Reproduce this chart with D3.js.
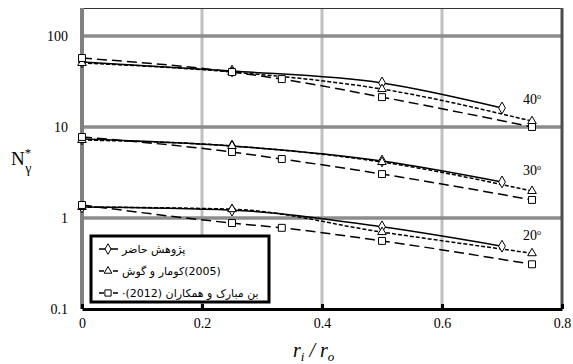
<!DOCTYPE html>
<html>
<head>
<meta charset="utf-8">
<script src="https://cdn.jsdelivr.net/npm/d3@7"></script>
<style>
  body { margin: 0; background: #fff; }
  svg { display: block; }
</style>
</head>
<body>
<svg class="chart"></svg>
<script>
// values
var xPresent = [0, 0.25, 0.5, 0.7];
var xKumar   = [0, 0.25, 0.5, 0.75];
var xBen     = [0, 0.25, 0.333, 0.5, 0.75];

var present40 = [51.8, 41.2, 30.5, 16.2];
var kumar40   = [50.5, 40.2, 26.1, 11.6];
var ben40     = [57.3, 40.2, 33.6, 21.3, 10.0];

var present30 = [7.39, 6.19, 4.23, 2.49];
var kumar30   = [7.20, 6.19, 4.12, 1.98];
var ben30     = [7.77, 5.31, 4.45, 3.04, 1.58];

var present20 = [1.32, 1.22, 0.80, 0.49];
var kumar20   = [1.32, 1.25, 0.70, 0.41];
var ben20     = [1.39, 0.88, 0.78, 0.56, 0.31];

var angleLabels = ["40", "30", "20"];

var xTicks = [0, 0.2, 0.4, 0.6, 0.8];
var yTicks = [0.1, 1, 10, 100];

var legendNames = ["پژوهش حاضر", "(2005)کومار و گوش", "بن مبارک و همکاران (2012)·"];

var serif = "Liberation Serif, Times New Roman, serif";
var width = 573, height = 364;
var svg = d3.select(".chart").attr("width", width).attr("height", height);

var x = d3.scaleLinear().domain([0, 0.8]).range([82, 562]);
var y = d3.scaleLog().domain([0.1, Math.pow(10, 2.3077)]).range([309, 8]);

// styles per source
var styles = [
    { name: "present", xs: xPresent, dash: null,    marker: d3.symbolDiamond,  size: 40 },
    { name: "kumar",   xs: xKumar,   dash: "4,2",   marker: d3.symbolTriangle, size: 32 },
    { name: "ben",     xs: xBen,     dash: "10,5",  marker: d3.symbolSquare,   size: 48 }
];
var groups = [
    [present40, kumar40, ben40],
    [present30, kumar30, ben30],
    [present20, kumar20, ben20]
];

// grid
svg.append("g").selectAll("line")
    .data([0.2, 0.4, 0.6])
  .enter().append("line")
    .attr("x1", function(d) { return x(d); }).attr("x2", function(d) { return x(d); })
    .attr("y1", 8).attr("y2", 309)
    .attr("stroke", "#bfbfbf").attr("stroke-width", 3);

svg.append("g").selectAll("line")
    .data([1, 10, 100])
  .enter().append("line")
    .attr("x1", 82).attr("x2", 562)
    .attr("y1", function(d) { return y(d); }).attr("y2", function(d) { return y(d); })
    .attr("stroke", "#8c8c8c").attr("stroke-width", 3.5);

// frame
svg.append("line").attr("x1", 82).attr("x2", 563).attr("y1", 8.5).attr("y2", 8.5)
    .attr("stroke", "#333").attr("stroke-width", 1);
svg.append("line").attr("x1", 562).attr("x2", 562).attr("y1", 8).attr("y2", 309)
    .attr("stroke", "#4d4d4d").attr("stroke-width", 3);
svg.append("line").attr("x1", 82).attr("x2", 82).attr("y1", 8).attr("y2", 309)
    .attr("stroke", "#808080").attr("stroke-width", 4);

// series
var line = d3.line()
    .x(function(d) { return x(d[0]); })
    .y(function(d) { return y(d[1]); })
    .curve(d3.curveMonotoneX);

groups.forEach(function(g) {
    g.forEach(function(vals, i) {
        var st = styles[i];
        var pts = vals.map(function(v, k) { return [st.xs[k], v]; });
        svg.append("path")
            .datum(pts)
            .attr("d", line)
            .attr("fill", "none")
            .attr("stroke", "#000")
            .attr("stroke-width", 1.5)
            .attr("stroke-dasharray", st.dash);
    });
});
groups.forEach(function(g) {
    g.forEach(function(vals, i) {
        var st = styles[i];
        var pts = vals.map(function(v, k) { return [st.xs[k], v]; });
        svg.append("g").selectAll("path")
            .data(pts)
          .enter().append("path")
            .attr("transform", function(d) { return "translate(" + x(d[0]) + "," + y(d[1]) + ")"; })
            .attr("d", d3.symbol().type(st.marker).size(st.size))
            .attr("fill", "#fff")
            .attr("stroke", "#000")
            .attr("stroke-width", 1);
    });
});

// axes
var xAxis = svg.append("g")
    .attr("transform", "translate(0,309)")
    .call(d3.axisBottom(x).tickValues(xTicks).tickSizeInner(-5).tickSizeOuter(0).tickPadding(9)
        .tickFormat(function(d) { return d === 0 ? "0" : d3.format(".1f")(d); }));
xAxis.select(".domain").attr("stroke", "#000").attr("stroke-width", 3);
xAxis.selectAll(".tick line").attr("stroke", "#000").attr("stroke-width", 3);

var yAxis = svg.append("g")
    .attr("transform", "translate(82,0)")
    .call(d3.axisLeft(y).tickValues(yTicks).tickSize(0).tickPadding(14)
        .tickFormat(function(d) { return d < 1 ? "0.1" : String(d); }));
yAxis.select(".domain").remove();

[xAxis, yAxis].forEach(function(a) {
    a.attr("font-family", serif).attr("font-size", 14);
    a.selectAll("text").attr("font-family", serif).attr("font-size", 14).attr("fill", "#000");
});

// angle labels
svg.append("g").selectAll("text")
    .data(angleLabels)
  .enter().append("text")
    .attr("x", 523)
    .attr("y", function(d, i) { return [104, 175, 240][i]; })
    .attr("font-family", serif)
    .attr("font-size", 14)
    .each(function(d) {
        var t = d3.select(this);
        t.append("tspan").text(d);
        t.append("tspan").attr("font-size", 8).attr("dy", -5).text("o");
    });

// axis titles
var yt = svg.append("text")
    .attr("x", 11).attr("y", 165)
    .attr("font-family", serif)
    .attr("font-size", 19);
yt.append("tspan").text("N");
yt.append("tspan").attr("font-size", 13).attr("dy", -8).text("*");
yt.append("tspan").attr("font-size", 14).attr("dx", -6).attr("dy", 16).text("γ");

var xt = svg.append("text")
    .attr("x", 293).attr("y", 357)
    .attr("font-family", serif)
    .attr("font-style", "italic")
    .attr("font-size", 20);
xt.append("tspan").text("r");
xt.append("tspan").attr("font-size", 13).attr("dy", 4).text("i");
xt.append("tspan").attr("dy", -4).text(" / r");
xt.append("tspan").attr("font-size", 13).attr("dy", 4).text("o");

// legend
var legend = svg.append("g");
legend.append("rect")
    .attr("x", 91).attr("y", 236).attr("width", 178).attr("height", 66)
    .attr("fill", "#fff").attr("stroke", "#000").attr("stroke-width", 3);

var rows = legend.selectAll(".row")
    .data(legendNames)
  .enter().append("g")
    .attr("transform", function(d, i) { return "translate(0," + (249 + i * 22) + ")"; });

rows.append("line")
    .attr("x1", 99).attr("x2", 118).attr("y1", 0).attr("y2", 0)
    .attr("stroke", "#000").attr("stroke-width", 1.5)
    .attr("stroke-dasharray", function(d, i) { return styles[i].dash ? "5,2" : null; });
rows.append("path")
    .attr("transform", "translate(108,0)")
    .attr("d", function(d, i) { return d3.symbol().type(styles[i].marker).size(styles[i].size * 0.8)(); })
    .attr("fill", "#fff").attr("stroke", "#000").attr("stroke-width", 1);
rows.append("text")
    .attr("x", 122).attr("y", 4)
    .attr("direction", "rtl")
    .attr("text-anchor", "end")
    .attr("font-family", "DejaVu Sans, sans-serif")
    .attr("font-size", 11)
    .text(function(d) { return d; });
</script>
</body>
</html>
